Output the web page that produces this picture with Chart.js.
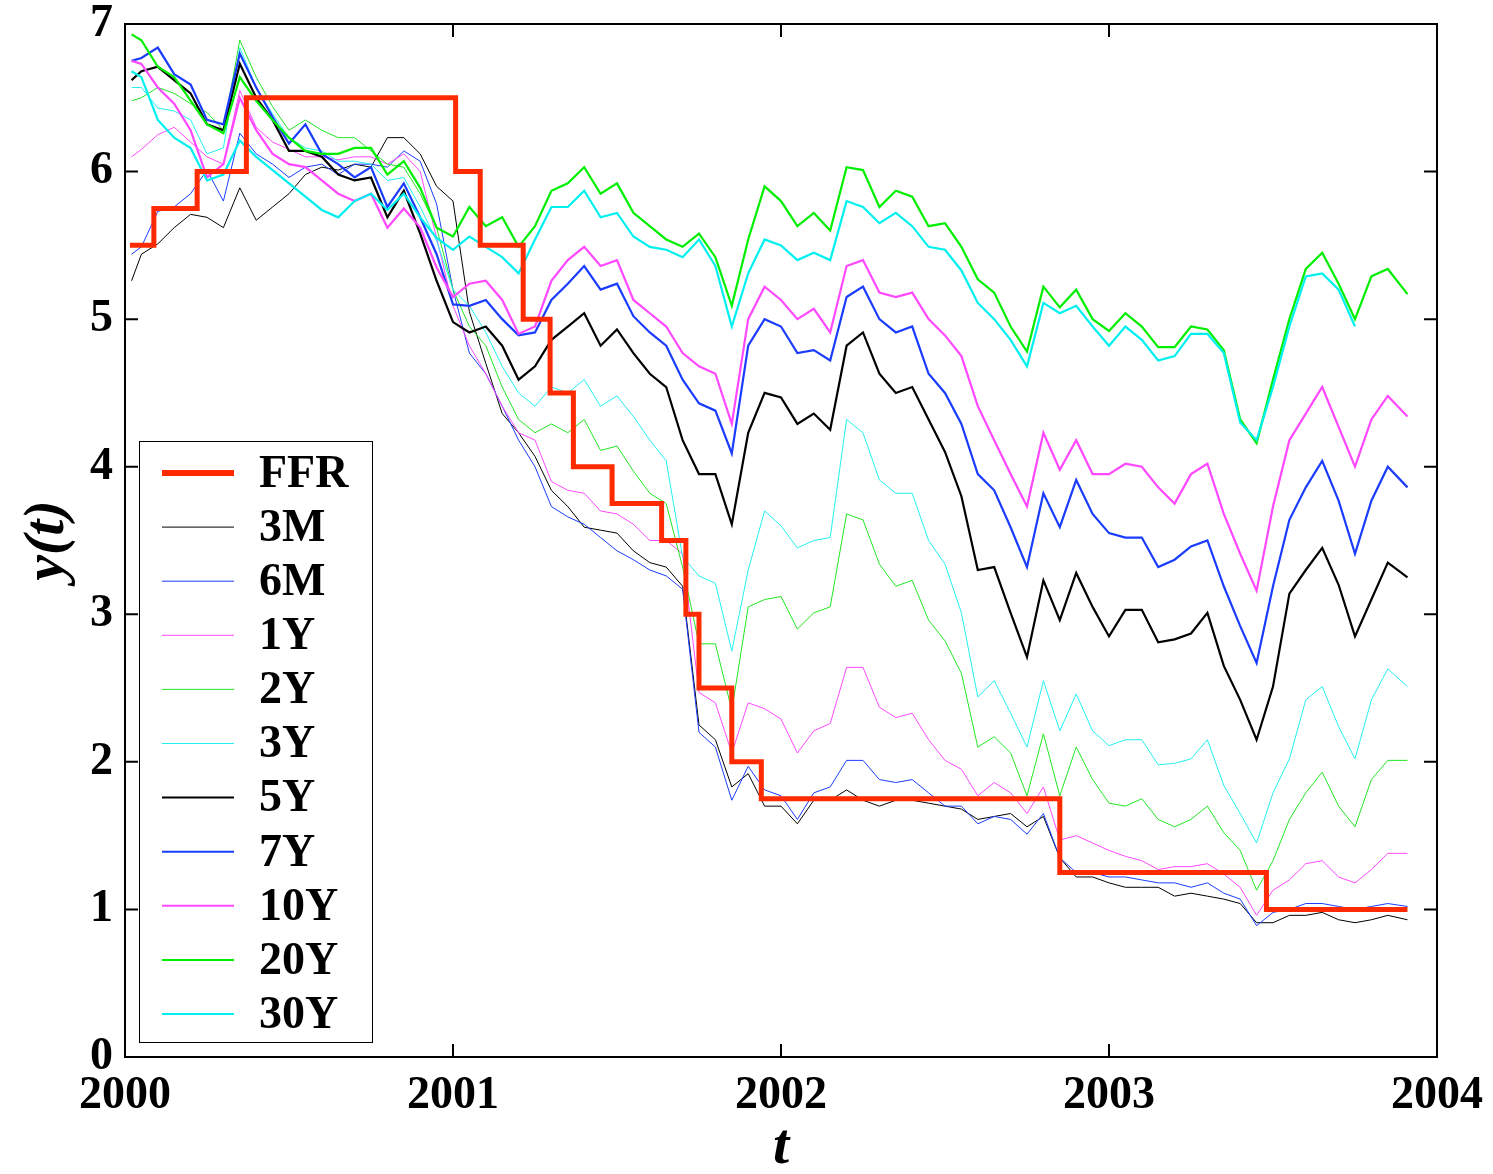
<!DOCTYPE html>
<html>
<head>
<meta charset="utf-8">
<script src="https://cdn.jsdelivr.net/npm/chart.js@4.4.0/dist/chart.umd.min.js"></script>
<style>
  html, body { margin: 0; padding: 0; background: #fff; }
  #wrap { width: 1493px; height: 1174px; }
</style>
</head>
<body>
<div id="wrap"><canvas id="yieldChart"></canvas></div>
<script>
// sampling dates (decimal years) shared by all yield series
var dates = [
  2000.02, 2000.05, 2000.10, 2000.15, 2000.20, 2000.25, 2000.30, 2000.35, 2000.40, 2000.45,
  2000.50, 2000.55, 2000.60, 2000.65, 2000.70, 2000.75, 2000.80, 2000.85, 2000.90, 2000.95,
  2001.00, 2001.05, 2001.10, 2001.15, 2001.20, 2001.25, 2001.30, 2001.35, 2001.40, 2001.45,
  2001.50, 2001.55, 2001.60, 2001.65, 2001.70, 2001.75, 2001.80, 2001.85, 2001.90, 2001.95,
  2002.00, 2002.05, 2002.10, 2002.15, 2002.20, 2002.25, 2002.30, 2002.35, 2002.40, 2002.45,
  2002.50, 2002.55, 2002.60, 2002.65, 2002.70, 2002.75, 2002.80, 2002.85, 2002.90, 2002.95,
  2003.00, 2003.05, 2003.10, 2003.15, 2003.20, 2003.25, 2003.30, 2003.35, 2003.40, 2003.45,
  2003.50, 2003.55, 2003.60, 2003.65, 2003.70, 2003.75, 2003.80, 2003.85, 2003.91
];

var y3M = [
  5.26, 5.44, 5.51, 5.62, 5.71, 5.69, 5.62, 5.89, 5.67, 5.76, 5.85, 5.98, 6.03, 6.01, 6.05, 6.03, 6.23, 6.23, 6.12, 5.90,
  5.80, 5.05, 4.70, 4.36, 4.23, 4.07, 3.84, 3.73, 3.59, 3.57, 3.55, 3.43, 3.35, 3.32, 3.19, 2.25, 2.15, 1.83, 1.92, 1.70,
  1.70, 1.58, 1.74, 1.74, 1.81, 1.74, 1.70, 1.74, 1.74, 1.72, 1.70, 1.68, 1.61, 1.63, 1.65, 1.56, 1.63, 1.35, 1.22, 1.22,
  1.18, 1.15, 1.15, 1.15, 1.09, 1.11, 1.09, 1.07, 1.04, 0.91, 0.91, 0.96, 0.96, 0.98, 0.93, 0.91, 0.93, 0.96, 0.93
];
var y6M = [
  5.44, 5.49, 5.73, 5.76, 5.85, 6.01, 5.80, 6.26, 6.12, 6.05, 5.96, 6.03, 6.05, 5.98, 6.05, 6.05, 6.03, 6.14, 6.07, 5.78,
  5.20, 4.77, 4.63, 4.41, 4.18, 4.00, 3.73, 3.66, 3.61, 3.52, 3.43, 3.37, 3.30, 3.26, 3.17, 2.20, 2.10, 1.74, 1.97, 1.81,
  1.77, 1.61, 1.79, 1.83, 2.01, 2.01, 1.88, 1.86, 1.88, 1.79, 1.70, 1.70, 1.58, 1.63, 1.61, 1.51, 1.65, 1.35, 1.25, 1.25,
  1.22, 1.22, 1.20, 1.18, 1.18, 1.15, 1.18, 1.11, 1.07, 0.89, 0.98, 1.00, 1.04, 1.04, 1.02, 1.00, 1.02, 1.04, 1.02
];
var y1Y = [
  6.10, 6.15, 6.25, 6.30, 6.20, 6.10, 6.05, 6.55, 6.30, 6.20, 6.15, 6.10, 6.10, 6.08, 6.10, 6.10, 6.05, 6.12, 6.00, 5.55,
  5.09, 4.82, 4.63, 4.41, 4.23, 4.18, 3.90, 3.84, 3.82, 3.70, 3.68, 3.61, 3.50, 3.50, 3.41, 2.47, 2.40, 2.06, 2.40, 2.36,
  2.29, 2.06, 2.21, 2.26, 2.64, 2.64, 2.37, 2.30, 2.33, 2.15, 2.01, 1.95, 1.77, 1.86, 1.79, 1.65, 1.83, 1.47, 1.50, 1.45,
  1.40, 1.36, 1.33, 1.27, 1.29, 1.29, 1.31, 1.24, 1.15, 0.96, 1.13, 1.20, 1.31, 1.33, 1.22, 1.18, 1.27, 1.38, 1.38
];
var y2Y = [
  6.48, 6.50, 6.57, 6.53, 6.46, 6.40, 6.28, 6.89, 6.64, 6.44, 6.28, 6.35, 6.28, 6.23, 6.23, 6.14, 6.05, 6.03, 5.85, 5.62,
  5.20, 4.95, 4.82, 4.54, 4.32, 4.23, 4.29, 4.23, 4.32, 4.11, 4.14, 3.97, 3.82, 3.75, 3.32, 2.80, 2.80, 2.35, 3.05, 3.10,
  3.12, 2.90, 3.01, 3.05, 3.68, 3.64, 3.34, 3.19, 3.23, 2.96, 2.82, 2.60, 2.10, 2.17, 2.06, 1.77, 2.19, 1.77, 2.10, 1.88,
  1.72, 1.70, 1.75, 1.61, 1.56, 1.61, 1.70, 1.52, 1.40, 1.13, 1.33, 1.61, 1.79, 1.93, 1.70, 1.56, 1.88, 2.01, 2.01
];
var y3Y = [
  6.57, 6.57, 6.43, 6.41, 6.35, 6.12, 6.16, 6.84, 6.57, 6.39, 6.23, 6.16, 6.14, 6.07, 6.07, 6.05, 5.94, 5.96, 5.76, 5.53,
  5.20, 5.09, 4.91, 4.68, 4.50, 4.41, 4.54, 4.50, 4.59, 4.41, 4.48, 4.34, 4.18, 4.04, 3.39, 3.26, 3.21, 2.75, 3.30, 3.70,
  3.60, 3.45, 3.50, 3.52, 4.32, 4.23, 3.91, 3.82, 3.82, 3.50, 3.34, 3.01, 2.44, 2.55, 2.33, 2.10, 2.55, 2.21, 2.46, 2.21,
  2.11, 2.15, 2.15, 1.98, 1.99, 2.02, 2.15, 1.84, 1.65, 1.45, 1.79, 2.02, 2.42, 2.51, 2.24, 2.02, 2.42, 2.63, 2.51
];
var y5Y = [
  6.62, 6.68, 6.71, 6.62, 6.53, 6.32, 6.28, 6.73, 6.50, 6.35, 6.14, 6.14, 6.10, 5.98, 5.94, 5.96, 5.69, 5.87, 5.58, 5.26,
  4.98, 4.91, 4.95, 4.82, 4.59, 4.68, 4.86, 4.95, 5.04, 4.82, 4.93, 4.77, 4.63, 4.54, 4.18, 3.95, 3.95, 3.61, 4.23, 4.50,
  4.47, 4.29, 4.36, 4.25, 4.82, 4.91, 4.63, 4.50, 4.54, 4.32, 4.10, 3.80, 3.30, 3.32, 3.01, 2.71, 3.23, 2.96, 3.28, 3.05,
  2.85, 3.03, 3.03, 2.81, 2.83, 2.87, 3.01, 2.65, 2.42, 2.15, 2.51, 3.14, 3.30, 3.45, 3.20, 2.85, 3.10, 3.35, 3.25
];
var y7Y = [
  6.75, 6.77, 6.84, 6.66, 6.59, 6.35, 6.32, 6.80, 6.57, 6.37, 6.19, 6.32, 6.12, 6.05, 5.96, 6.03, 5.76, 5.92, 5.69, 5.44,
  5.10, 5.09, 5.13, 5.00, 4.89, 4.91, 5.13, 5.24, 5.36, 5.20, 5.24, 5.02, 4.91, 4.82, 4.59, 4.43, 4.38, 4.09, 4.82, 5.00,
  4.95, 4.77, 4.79, 4.72, 5.15, 5.22, 5.00, 4.91, 4.95, 4.63, 4.50, 4.29, 3.95, 3.84, 3.59, 3.32, 3.82, 3.59, 3.91, 3.68,
  3.55, 3.52, 3.52, 3.32, 3.37, 3.46, 3.50, 3.19, 2.92, 2.67, 3.19, 3.64, 3.86, 4.04, 3.77, 3.41, 3.77, 4.00, 3.86
];
var y10Y = [
  6.75, 6.73, 6.57, 6.46, 6.28, 5.96, 6.05, 6.50, 6.28, 6.12, 6.05, 6.03, 5.94, 5.85, 5.80, 5.85, 5.62, 5.75, 5.62, 5.35,
  5.15, 5.24, 5.26, 5.13, 4.90, 4.95, 5.26, 5.40, 5.49, 5.36, 5.40, 5.13, 5.04, 4.95, 4.77, 4.68, 4.63, 4.29, 5.00, 5.22,
  5.13, 5.00, 5.07, 4.91, 5.36, 5.40, 5.18, 5.15, 5.18, 5.00, 4.89, 4.75, 4.41, 4.18, 3.95, 3.73, 4.23, 3.98, 4.18, 3.95,
  3.95, 4.02, 4.00, 3.86, 3.75, 3.95, 4.02, 3.68, 3.41, 3.16, 3.73, 4.18, 4.36, 4.54, 4.27, 4.00, 4.32, 4.48, 4.34
];
var y20Y = [
  6.93, 6.89, 6.71, 6.64, 6.48, 6.32, 6.26, 6.64, 6.48, 6.35, 6.23, 6.14, 6.12, 6.12, 6.16, 6.16, 5.98, 6.07, 5.89, 5.62,
  5.56, 5.76, 5.63, 5.69, 5.49, 5.63, 5.87, 5.92, 6.03, 5.85, 5.92, 5.72, 5.63, 5.54, 5.49, 5.58, 5.42, 5.09, 5.54, 5.90,
  5.80, 5.63, 5.72, 5.60, 6.03, 6.01, 5.76, 5.87, 5.83, 5.63, 5.65, 5.49, 5.27, 5.18, 4.95, 4.78, 5.22, 5.08, 5.20, 5.00,
  4.92, 5.04, 4.95, 4.81, 4.81, 4.95, 4.93, 4.79, 4.32, 4.16, 4.59, 5.00, 5.34, 5.45, 5.24, 5.00, 5.29, 5.34, 5.17
];
var y30Y = [
  6.68, 6.64, 6.35, 6.23, 6.16, 5.94, 5.98, 6.21, 6.10, 6.01, 5.92, 5.83, 5.74, 5.69, 5.80, 5.85, 5.74, 5.85, 5.69, 5.55,
  5.47, 5.56, 5.49, 5.42, 5.31, 5.54, 5.76, 5.76, 5.87, 5.69, 5.72, 5.56, 5.49, 5.47, 5.42, 5.54, 5.36, 4.95, 5.31, 5.54,
  5.50, 5.40, 5.45, 5.40, 5.80, 5.76, 5.65, 5.72, 5.63, 5.49, 5.47, 5.33, 5.11, 5.00, 4.86, 4.68, 5.11, 5.04, 5.09, 4.95,
  4.82, 4.95, 4.86, 4.72, 4.75, 4.90, 4.90, 4.77, 4.30, 4.18, 4.54, 4.95, 5.29, 5.31, 5.20, 4.95, null, null, null
];

// federal funds target rate: date of each change and the new rate
var ffrDates = [2000.015, 2000.088, 2000.22, 2000.37, 2001.008, 2001.083, 2001.214, 2001.296, 2001.367,
                2001.485, 2001.636, 2001.71, 2001.75, 2001.85, 2001.94, 2002.85, 2003.48, 2003.91];
var ffrRates = [5.5, 5.75, 6.0, 6.5, 6.0, 5.5, 5.0, 4.5, 4.0, 3.75, 3.5, 3.0, 2.5, 2.0, 1.75, 1.25, 1.0, 1.0];

var xTicks = [2000, 2001, 2002, 2003, 2004];
var yTicks = [0, 1, 2, 3, 4, 5, 6, 7];

var names  = ['FFR', '3M', '6M', '1Y', '2Y', '3Y', '5Y', '7Y', '10Y', '20Y', '30Y'];
var colors = ['#ff2a00', '#000000', '#1a3cff', '#ff48ff', '#22e622', '#22f0f0',
              '#000000', '#1a3cff', '#ff48ff', '#00ee00', '#00f0f0'];
var widths = [5, 1, 1, 1, 1, 1, 2.2, 2.2, 2.2, 2.2, 2.2];
var drawOrder = [0, 10, 9, 8, 7, 6, 5, 4, 3, 2, 1];
var serif = "'Liberation Serif', 'Times New Roman', serif";

function toPoints(xs, ys) {
  return xs.map(function (x, i) { return { x: x, y: ys[i] }; });
}

var seriesValues = [null, y3M, y6M, y1Y, y2Y, y3Y, y5Y, y7Y, y10Y, y20Y, y30Y];
var datasets = names.map(function (n, i) {
  return {
    label: n,
    data: i === 0 ? toPoints(ffrDates, ffrRates) : toPoints(dates, seriesValues[i]),
    borderColor: colors[i],
    borderWidth: widths[i],
    stepped: i === 0 ? 'before' : false,
    pointRadius: 0,
    tension: 0,
    fill: false,
    order: drawOrder[i]
  };
});

// frame, inward ticks and the boxed legend
var frameAndLegend = {
  id: 'frameAndLegend',
  afterDatasetsDraw: function (chart) {
    var ctx = chart.ctx, a = chart.chartArea;
    var xs = chart.scales.x, ys = chart.scales.y;
    ctx.save();

    var bx = a.left + 14, by = a.top + 417, bw = 233, bh = 601;
    ctx.fillStyle = '#fff';
    ctx.fillRect(bx, by, bw, bh);
    ctx.strokeStyle = '#000';
    ctx.lineWidth = 1;
    ctx.strokeRect(bx + 0.5, by + 0.5, bw, bh);
    ctx.font = 'bold 46px ' + serif;
    ctx.textBaseline = 'middle';
    ctx.textAlign = 'left';
    names.forEach(function (n, i) {
      var ry = by + 32 + i * 54.1;
      ctx.strokeStyle = colors[i];
      ctx.lineWidth = i === 0 ? 6 : (widths[i] > 1.5 ? 2 : 1);
      ctx.beginPath();
      ctx.moveTo(bx + 23, ry);
      ctx.lineTo(bx + 95, ry);
      ctx.stroke();
      ctx.fillStyle = '#000';
      ctx.fillText(n, bx + 120, ry + 2);
    });

    ctx.strokeStyle = '#000';
    ctx.lineWidth = 2;
    ctx.strokeRect(a.left, a.top, a.right - a.left, a.bottom - a.top);
    ctx.beginPath();
    xTicks.forEach(function (v) {
      var px = xs.getPixelForValue(v);
      ctx.moveTo(px, a.bottom); ctx.lineTo(px, a.bottom - 13);
      ctx.moveTo(px, a.top); ctx.lineTo(px, a.top + 13);
    });
    yTicks.forEach(function (v) {
      var py = ys.getPixelForValue(v);
      ctx.moveTo(a.left, py); ctx.lineTo(a.left + 13, py);
      ctx.moveTo(a.right, py); ctx.lineTo(a.right - 13, py);
    });
    ctx.stroke();
    ctx.restore();
  }
};

var ctx = document.getElementById('yieldChart').getContext('2d');
var yieldChart = new Chart(ctx, {
  type: 'line',
  data: { datasets: datasets },
  plugins: [frameAndLegend],
  options: {
    responsive: true,
    maintainAspectRatio: false,
    animation: false,
    layout: { padding: { left: 0, right: 56, top: 24, bottom: 0 } },
    plugins: { legend: { display: false }, tooltip: { enabled: false } },
    scales: {
      x: {
        type: 'linear',
        min: 2000,
        max: 2004,
        afterFit: function (scale) {
          scale.height = 117;
          scale.paddingLeft = 0;
          scale.paddingRight = 0;
        },
        afterBuildTicks: function (scale) { scale.ticks = xTicks.map(function (v) { return { value: v }; }); },
        grid: { display: false, drawTicks: false },
        border: { display: false },
        ticks: {
          padding: 12,
          color: '#000',
          font: { family: serif, size: 46, weight: 'bold' },
          callback: function (v) { return String(v); }
        },
        title: {
          display: true,
          text: 't',
          color: '#000',
          padding: { top: 0, bottom: 0 },
          font: { family: serif, size: 58, weight: 'bold', style: 'italic', lineHeight: 0.9 }
        }
      },
      y: {
        min: 0,
        max: 7,
        afterFit: function (scale) {
          scale.width = 125;
          scale.paddingTop = 0;
          scale.paddingBottom = 0;
        },
        afterBuildTicks: function (scale) { scale.ticks = yTicks.map(function (v) { return { value: v }; }); },
        grid: { display: false, drawTicks: false },
        border: { display: false },
        ticks: {
          padding: 12,
          color: '#000',
          font: { family: serif, size: 46, weight: 'bold' },
          callback: function (v) { return String(v); }
        },
        title: {
          display: true,
          text: 'y(t)',
          color: '#000',
          padding: { top: 22, bottom: 0 },
          font: { family: serif, size: 58, weight: 'bold', style: 'italic', lineHeight: 0.9 }
        }
      }
    }
  }
});
</script>
</body>
</html>
